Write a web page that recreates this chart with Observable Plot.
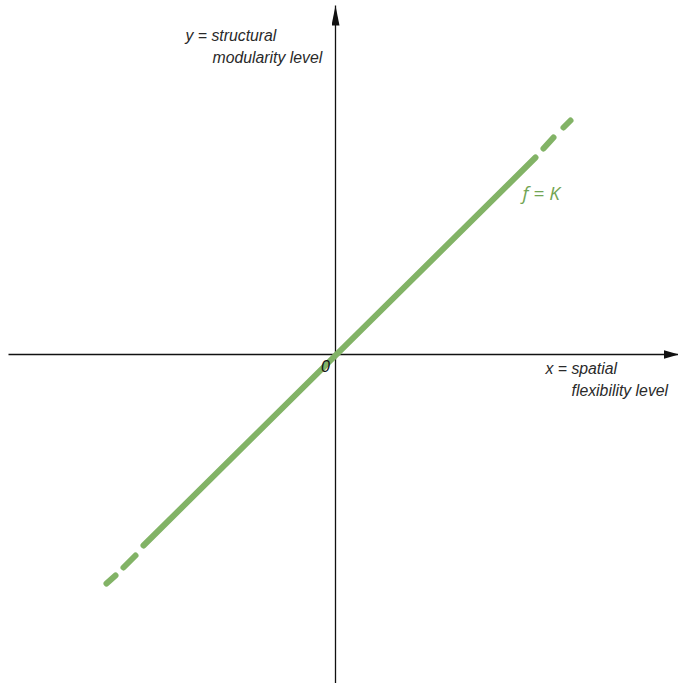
<!DOCTYPE html>
<html>
<head>
<meta charset="utf-8">
<script src="https://cdn.jsdelivr.net/npm/d3@7"></script>
<script src="https://cdn.jsdelivr.net/npm/@observablehq/plot@0.6"></script>
<style>
  html, body { margin: 0; padding: 0; background: #fff; }
  #chart svg { display: block; }
</style>
</head>
<body>
<div id="chart"></div>
<script>
// ---- data (units: relative levels, origin at 0) ----
const xDomain = [-1.675, 1.715];
const yDomain = [-1.645, 1.77];
const xAxisStart = -1.635;
const yAxisTop = 1.745;

// f = K line: solid part
const solidX = [-0.96, 1.0];
const solidY = [-0.955, 0.985];
// dashed continuation segments
const dashX1 = [1.04, 1.14, -1.0, -1.10];
const dashY1 = [1.03, 1.135, -1.005, -1.105];
const dashX2 = [1.09, 1.175, -1.06, -1.145];
const dashY2 = [1.085, 1.17, -1.065, -1.145];

const xLabelLines = ["x = spatial", "flexibility level"];
const yLabelLines = ["y = structural", "modularity level"];
const lineLabel = "f = K";
const originLabel = "0";

const solid = solidX.map((x, i) => ({x, y: solidY[i]}));
const dashes = dashX1.map((x1, i) => ({x1, y1: dashY1[i], x2: dashX2[i], y2: dashY2[i]}));

function arrowMarker(len, half) {
  return function () {
    const m = d3.create("svg:marker")
      .attr("viewBox", `${-len} ${-half} ${len} ${2 * half}`)
      .attr("markerUnits", "userSpaceOnUse")
      .attr("markerWidth", len)
      .attr("markerHeight", 2 * half)
      .attr("refX", 0)
      .attr("refY", 0)
      .attr("orient", "auto");
    m.append("path").attr("d", `M0,0L${-len},${-half}L${-len},${half}Z`).attr("fill", "#111").attr("stroke", "none");
    return m.node();
  };
}

const green = "#82b366";
const font = "Liberation Sans, Arial, sans-serif";
const labelStyle = {textAnchor: "start", fill: "#2a2a2a", fontSize: 15.8, fontStyle: "italic", frameAnchor: "top-left"};

const chart = Plot.plot({
  width: 678,
  height: 683,
  margin: 0,
  style: {background: "#fff", fontFamily: font},
  x: {domain: xDomain, axis: null},
  y: {domain: yDomain, axis: null},
  marks: [
    // axes
    Plot.link([0], {x1: xAxisStart, y1: 0, x2: xDomain[1], y2: 0, stroke: "#111", strokeWidth: 1.3, markerEnd: arrowMarker(15, 4.5)}),
    Plot.link([0], {x1: 0, y1: yDomain[0], x2: 0, y2: yAxisTop, stroke: "#111", strokeWidth: 1.3, markerEnd: arrowMarker(20, 4)}),
    // f = K line
    Plot.line(solid, {x: "x", y: "y", stroke: green, strokeWidth: 6, strokeLinecap: "round"}),
    Plot.link(dashes, {x1: "x1", y1: "y1", x2: "x2", y2: "y2", stroke: green, strokeWidth: 6, strokeLinecap: "round"}),
    // labels
    Plot.text([lineLabel], {text: d => d, frameAnchor: "top-left", dx: 522, dy: 186, textAnchor: "start", fill: "#72a554", fontSize: 19, fontStyle: "italic", fontFamily: "Open Sans, sans-serif"}),
    Plot.text([yLabelLines[0]], {...labelStyle, text: d => d, dx: 185, dy: 29}),
    Plot.text([yLabelLines[1]], {...labelStyle, text: d => d, dx: 212, dy: 51}),
    Plot.text([xLabelLines[0]], {...labelStyle, text: d => d, dx: 545, dy: 362}),
    Plot.text([xLabelLines[1]], {...labelStyle, text: d => d, dx: 571, dy: 384}),
    Plot.text([originLabel], {text: d => d, frameAnchor: "top-left", dx: 325, dy: 360, textAnchor: "middle", fill: "#111", fontSize: 16, fontStyle: "italic"})
  ]
});
document.getElementById("chart").appendChild(chart);
</script>
</body>
</html>
